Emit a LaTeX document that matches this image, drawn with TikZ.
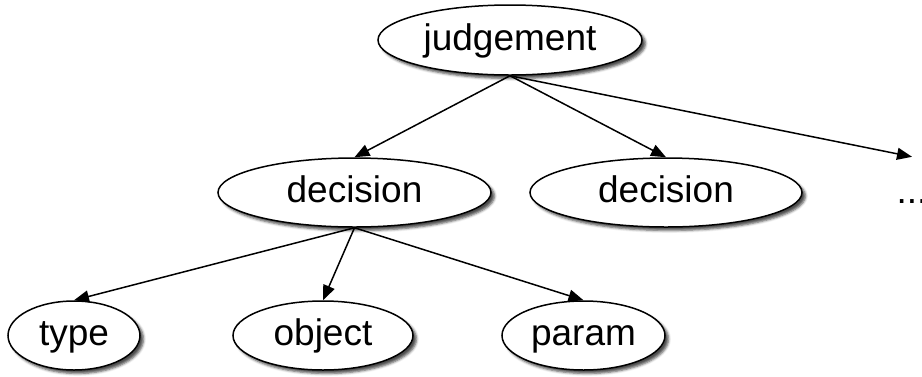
\documentclass[tikz,border=0pt]{standalone}
\usepackage{fontspec}
\setmainfont{Liberation Sans}
\usetikzlibrary{shapes.geometric,arrows.meta,shadows.blur}
\tikzset{
  nodebox/.style={ellipse, draw=black, line width=1.5pt, fill=white, inner sep=0pt,
    font=\fontsize{37}{40}\selectfont, text height=27.4pt, text depth=7.4pt,
    blur shadow={shadow xshift=3.5pt, shadow yshift=-3.5pt, shadow blur radius=2.5pt, shadow opacity=70}},
  edge/.style={line width=1.5pt, -{Triangle[length=15pt,width=12pt]}},
  plain/.style={inner sep=0pt, font=\fontsize{37}{40}\selectfont, text height=27.4pt, text depth=7.4pt, minimum height=72pt}
}
\begin{document}
\begin{tikzpicture}[x=1pt,y=-1pt]
\useasboundingbox (0,0) rectangle (922,376);
\node[nodebox, minimum width=264pt, minimum height=70pt] (j) at (510,40) {judgement};
\node[nodebox, minimum width=273pt, minimum height=69pt] (d1) at (354.5,192.5) {decision};
\node[nodebox, minimum width=272pt, minimum height=69pt] (d2) at (666,192.5) {decision};
\node[plain] (dots) at (912,193) {...};
\node[nodebox, minimum width=132pt, minimum height=69pt] (t) at (74,335.5) {type};
\node[nodebox, minimum width=180pt, minimum height=69pt] (o) at (323,335.5) {object};
\node[nodebox, minimum width=163pt, minimum height=69pt] (p) at (583.5,335.5) {param};
\draw[edge] (j.south) -- (d1.north);
\draw[edge] (j.south) -- (d2.north);
\draw[edge] (j.south) -- (dots.north);
\draw[edge] (d1.south) -- (t.north);
\draw[edge] (d1.south) -- (o.north);
\draw[edge] (d1.south) -- (p.north);
\end{tikzpicture}
\end{document}
